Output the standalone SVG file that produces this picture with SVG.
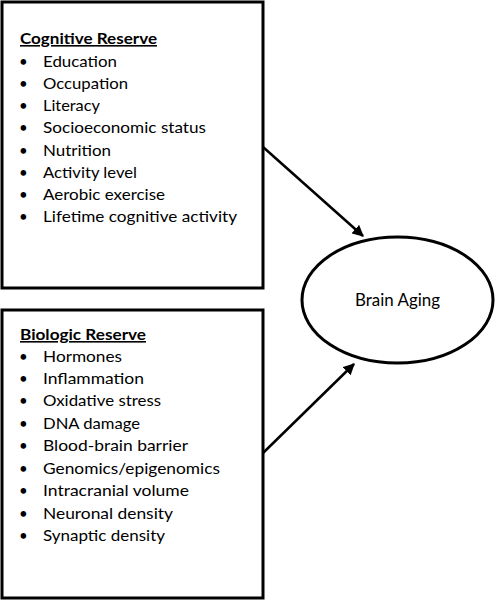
<svg xmlns="http://www.w3.org/2000/svg" width="495" height="600" viewBox="0 0 495 600">
<defs>
<style>
.box{fill:#fff;stroke:#000;stroke-width:3}
.t{font-family:Lato,"Liberation Sans",sans-serif;font-size:15px;fill:#000}
.h{font-family:Lato,"Liberation Sans",sans-serif;font-size:16px;font-weight:bold;fill:#000;text-decoration:underline}
.conn{stroke:#000;stroke-width:2.5;fill:none;marker-end:url(#arr)}
</style>
<marker id="arr" viewBox="0 0 10 10" refX="9" refY="5" markerWidth="4.6" markerHeight="4.6" orient="auto" markerUnits="strokeWidth">
<path d="M0,0 L10,5 L0,10 z" fill="#000"/>
</marker>
</defs>
<rect width="495" height="600" fill="#fff"/>
<g id="cognitive-reserve">
<rect class="box" x="2" y="2" width="261" height="286"/>
<text class="h" x="20" y="44" textLength="137" lengthAdjust="spacingAndGlyphs">Cognitive Reserve</text>
<g class="t">
<text x="19" y="67">•</text><text x="43" y="67" textLength="74" lengthAdjust="spacingAndGlyphs">Education</text>
<text x="19" y="89">•</text><text x="43" y="89" textLength="85" lengthAdjust="spacingAndGlyphs">Occupation</text>
<text x="19" y="111">•</text><text x="43" y="111" textLength="57" lengthAdjust="spacingAndGlyphs">Literacy</text>
<text x="19" y="133">•</text><text x="43" y="133" textLength="163" lengthAdjust="spacingAndGlyphs">Socioeconomic status</text>
<text x="19" y="156">•</text><text x="43" y="156" textLength="68" lengthAdjust="spacingAndGlyphs">Nutrition</text>
<text x="19" y="178">•</text><text x="43" y="178" textLength="94" lengthAdjust="spacingAndGlyphs">Activity level</text>
<text x="19" y="200">•</text><text x="43" y="200" textLength="122" lengthAdjust="spacingAndGlyphs">Aerobic exercise</text>
<text x="19" y="222">•</text><text x="43" y="222" textLength="194" lengthAdjust="spacingAndGlyphs">Lifetime cognitive activity</text>
</g>
</g>
<g id="biologic-reserve">
<rect class="box" x="2" y="310" width="261" height="288"/>
<text class="h" x="20" y="340" textLength="126" lengthAdjust="spacingAndGlyphs">Biologic Reserve</text>
<g class="t">
<text x="19" y="362">•</text><text x="43" y="362" textLength="79" lengthAdjust="spacingAndGlyphs">Hormones</text>
<text x="19" y="384">•</text><text x="43" y="384" textLength="101" lengthAdjust="spacingAndGlyphs">Inflammation</text>
<text x="19" y="406">•</text><text x="43" y="406" textLength="118" lengthAdjust="spacingAndGlyphs">Oxidative stress</text>
<text x="19" y="429">•</text><text x="43" y="429" textLength="97" lengthAdjust="spacingAndGlyphs">DNA damage</text>
<text x="19" y="451">•</text><text x="43" y="451" textLength="145" lengthAdjust="spacingAndGlyphs">Blood-brain barrier</text>
<text x="19" y="474">•</text><text x="43" y="474" textLength="177" lengthAdjust="spacingAndGlyphs">Genomics/epigenomics</text>
<text x="19" y="496">•</text><text x="43" y="496" textLength="146" lengthAdjust="spacingAndGlyphs">Intracranial volume</text>
<text x="19" y="519">•</text><text x="43" y="519" textLength="130" lengthAdjust="spacingAndGlyphs">Neuronal density</text>
<text x="19" y="541">•</text><text x="43" y="541" textLength="122" lengthAdjust="spacingAndGlyphs">Synaptic density</text>
</g>
</g>
<g id="brain-aging">
<ellipse cx="397.5" cy="300" rx="95.5" ry="63" fill="#fff" stroke="#000" stroke-width="3"/>
<text x="397.5" y="306" text-anchor="middle" font-family="Lato,'Liberation Sans',sans-serif" font-size="17" textLength="85" lengthAdjust="spacingAndGlyphs">Brain Aging</text>
</g>
<g id="connectors">
<line class="conn" x1="263" y1="147" x2="363" y2="236"/>
<line class="conn" x1="263" y1="453" x2="354" y2="364"/>
</g>
</svg>
